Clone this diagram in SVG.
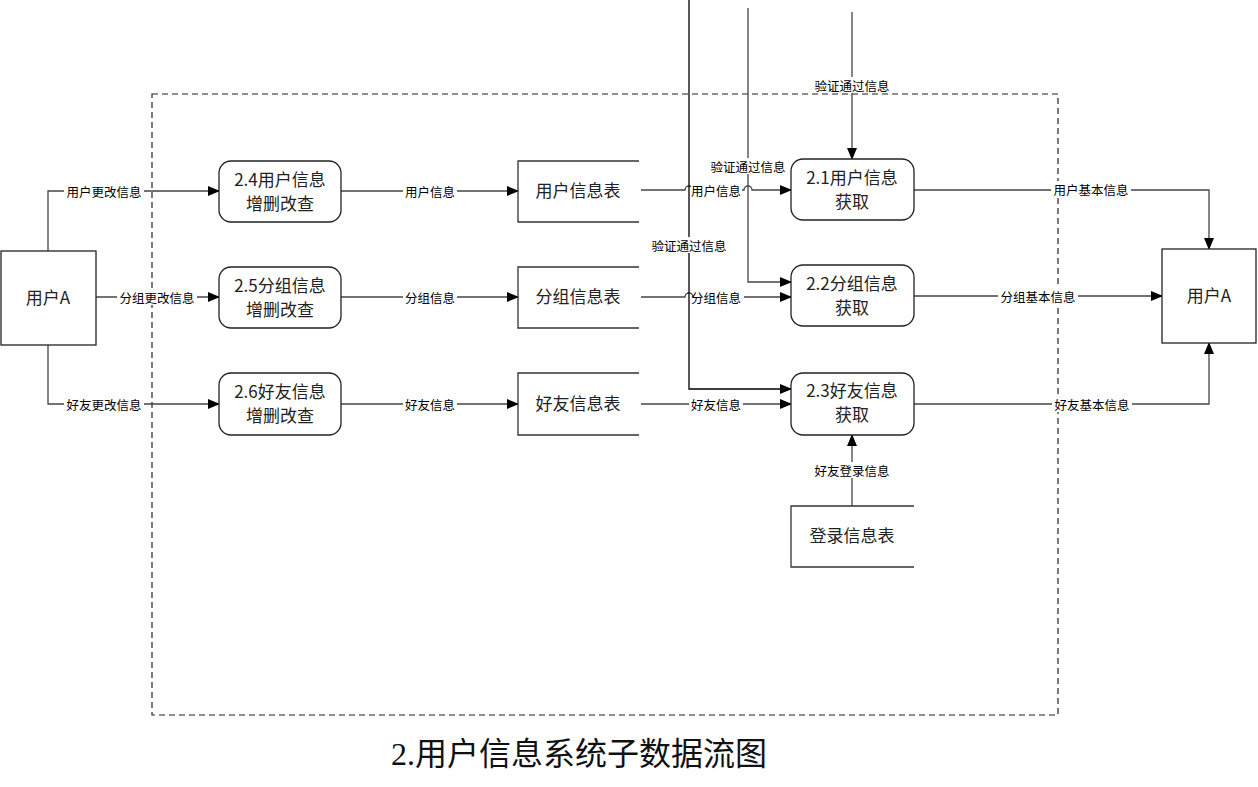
<svg xmlns="http://www.w3.org/2000/svg" width="1258" height="787" viewBox="0 0 1258 787">
<defs>
<marker id="arr" markerUnits="userSpaceOnUse" markerWidth="12" markerHeight="10" refX="11" refY="5" orient="auto">
<path d="M0,0 L12,5 L0,10 z" fill="#000"/>
</marker>
<style>
.box{fill:#fff;stroke:#222;stroke-width:1.3}
.proc{fill:#fff;stroke:#222;stroke-width:1.3}
.store{fill:none;stroke:#333;stroke-width:1.3}
.ln{fill:none;stroke:#444;stroke-width:1.3}
.lnb{fill:none;stroke:#000;stroke-width:1.3}
.nt{font-family:"Noto Sans CJK SC","Liberation Sans",sans-serif;font-size:17px;fill:#222;text-anchor:middle}
.lt{font-family:"Noto Sans CJK SC","Liberation Sans",sans-serif;font-size:12.5px;fill:#000;text-anchor:middle;dominant-baseline:central}
.bg{fill:#fff}
.title{font-family:"Liberation Serif","Noto Sans CJK SC",serif;font-size:32px;fill:#111;text-anchor:middle}
</style>
</defs>
<rect width="1258" height="787" fill="#fff"/>
<rect x="152" y="94" width="906" height="621" fill="none" stroke="#222" stroke-width="1.2" stroke-dasharray="6 4"/>

<g id="connectors">
<path class="ln" d="M48,251 V191 H219" marker-end="url(#arr)"/>
<path class="ln" d="M96,297 H219" marker-end="url(#arr)"/>
<path class="ln" d="M48,345 V404 H219" marker-end="url(#arr)"/>
<path class="ln" d="M341,191 H518" marker-end="url(#arr)"/>
<path class="ln" d="M341,297 H518" marker-end="url(#arr)"/>
<path class="ln" d="M341,404 H518" marker-end="url(#arr)"/>
<path class="ln" d="M641,190 H685 A4,4 0 0 1 693,190 H744 A4,4 0 0 1 752,190 H791" marker-end="url(#arr)"/>
<path class="ln" d="M641,297 H685 A4,4 0 0 1 693,297 H791" marker-end="url(#arr)"/>
<path class="ln" d="M641,404 H791" marker-end="url(#arr)"/>
<path class="lnb" d="M689,0 V389 H791" marker-end="url(#arr)"/>
<path class="ln" d="M748,8 V282 H791" marker-end="url(#arr)"/>
<path class="ln" d="M852,12 V159" marker-end="url(#arr)"/>
<path class="ln" d="M914,190 H1209 V249" marker-end="url(#arr)"/>
<path class="ln" d="M914,296 H1162" marker-end="url(#arr)"/>
<path class="ln" d="M914,404 H1209 V343" marker-end="url(#arr)"/>
<path class="ln" d="M852,506 V435" marker-end="url(#arr)"/>

<rect class="bg" x="64" y="183" width="80" height="16"/><text class="lt" x="104" y="191">用户更改信息</text>
<rect class="bg" x="117" y="289" width="80" height="16"/><text class="lt" x="157" y="297">分组更改信息</text>
<rect class="bg" x="64" y="396" width="80" height="16"/><text class="lt" x="104" y="404">好友更改信息</text>
<rect class="bg" x="403" y="183" width="54" height="16"/><text class="lt" x="430" y="191">用户信息</text>
<rect class="bg" x="403" y="289" width="54" height="16"/><text class="lt" x="430" y="297">分组信息</text>
<rect class="bg" x="403" y="396" width="54" height="16"/><text class="lt" x="430" y="404">好友信息</text>
<rect class="bg" x="691" y="182" width="51" height="16"/><text class="lt" x="716" y="190">用户信息</text>
<rect class="bg" x="694" y="289" width="50" height="16"/><text class="lt" x="716" y="297">分组信息</text>
<rect class="bg" x="689" y="396" width="54" height="16"/><text class="lt" x="716" y="404">好友信息</text>
<rect class="bg" x="812" y="77" width="80" height="16"/><text class="lt" x="852" y="85">验证通过信息</text>
<rect class="bg" x="708" y="158" width="80" height="16"/><text class="lt" x="748" y="166">验证通过信息</text>
<rect class="bg" x="649" y="237" width="80" height="16"/><text class="lt" x="689" y="245">验证通过信息</text>
<rect class="bg" x="1051" y="181" width="80" height="16"/><text class="lt" x="1091" y="189">用户基本信息</text>
<rect class="bg" x="998" y="288" width="80" height="16"/><text class="lt" x="1038" y="296">分组基本信息</text>
<rect class="bg" x="1052" y="396" width="80" height="16"/><text class="lt" x="1092" y="404">好友基本信息</text>
<rect class="bg" x="812" y="462" width="80" height="16"/><text class="lt" x="852" y="470">好友登录信息</text>
</g>

<g id="userA-left"><rect class="box" x="1" y="251" width="95" height="94"/><text class="nt" x="48" y="304">用户A</text></g>
<g id="userA-right"><rect class="box" x="1162" y="249" width="94" height="94"/><text class="nt" x="1209" y="302">用户A</text></g>

<g id="p24"><rect class="proc" x="219" y="161" width="122" height="61" rx="12"/><text class="nt" x="280" y="186">2.4用户信息</text><text class="nt" x="280" y="210">增删改查</text></g>
<g id="p25"><rect class="proc" x="219" y="267" width="122" height="61" rx="12"/><text class="nt" x="280" y="292">2.5分组信息</text><text class="nt" x="280" y="316">增删改查</text></g>
<g id="p26"><rect class="proc" x="219" y="373" width="122" height="62" rx="12"/><text class="nt" x="280" y="398">2.6好友信息</text><text class="nt" x="280" y="422">增删改查</text></g>
<g id="p21"><rect class="proc" x="791" y="159" width="123" height="61" rx="12"/><text class="nt" x="852" y="184">2.1用户信息</text><text class="nt" x="852" y="208">获取</text></g>
<g id="p22"><rect class="proc" x="791" y="265" width="123" height="61" rx="12"/><text class="nt" x="852" y="290">2.2分组信息</text><text class="nt" x="852" y="314">获取</text></g>
<g id="p23"><rect class="proc" x="791" y="373" width="123" height="62" rx="12"/><text class="nt" x="852" y="397">2.3好友信息</text><text class="nt" x="852" y="421">获取</text></g>

<g id="s-user"><path class="store" d="M639,161 H518 V222 H639"/><text class="nt" x="578" y="197">用户信息表</text></g>
<g id="s-group"><path class="store" d="M639,267 H518 V328 H639"/><text class="nt" x="578" y="303">分组信息表</text></g>
<g id="s-friend"><path class="store" d="M639,373 H518 V435 H639"/><text class="nt" x="578" y="410">好友信息表</text></g>
<g id="s-login"><path class="store" d="M914,506 H791 V567 H914"/><text class="nt" x="852" y="542">登录信息表</text></g>

<text class="title" x="579" y="765">2.用户信息系统子数据流图</text>
</svg>
